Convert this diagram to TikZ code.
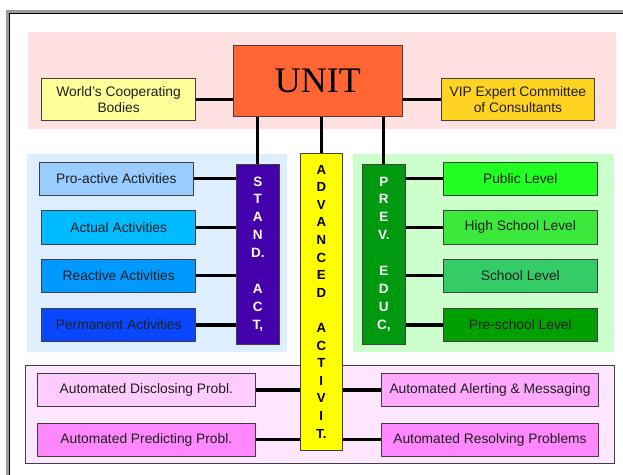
\documentclass[tikz,border=0pt]{standalone}
\usepackage{fontspec}
\setmainfont{Liberation Sans}
\newfontfamily\unitfont{Liberation Serif}
\usetikzlibrary{calc}
\pgfdeclarelayer{panels}
\pgfdeclarelayer{links}
\pgfsetlayers{panels,links,main}

% colours
\definecolor{boxline}{HTML}{404040}
\definecolor{framegrey}{HTML}{9A9A9A}
\definecolor{pinkpanel}{HTML}{FFE0E1}
\definecolor{bluepanel}{HTML}{DDEEFF}
\definecolor{greenpanel}{HTML}{CCFFCC}
\definecolor{magpanel}{HTML}{FFE6FF}
\definecolor{unitc}{HTML}{FF6633}
\definecolor{worldc}{HTML}{FFFF99}
\definecolor{vipc}{HTML}{FFD322}
\definecolor{proc}{HTML}{99CCFF}
\definecolor{actc}{HTML}{00BBFF}
\definecolor{reac}{HTML}{0099FF}
\definecolor{perc}{HTML}{0846FF}
\definecolor{standc}{HTML}{4400AA}
\definecolor{advc}{HTML}{FFFF00}
\definecolor{prevc}{HTML}{009A10}
\definecolor{pubc}{HTML}{22FF22}
\definecolor{highc}{HTML}{3BE83B}
\definecolor{schc}{HTML}{33CC66}
\definecolor{prec}{HTML}{00A000}
\definecolor{discc}{HTML}{FFCCFF}
\definecolor{predc}{HTML}{FF88FF}
\definecolor{alertc}{HTML}{FFAAFF}
\definecolor{resc}{HTML}{FF88FF}

% a rectangle node given by its corners: name, style, x1, y1, x2, y2, text
\newcommand\placebox[7]{%
  \node[#2, minimum width={#5-#3}, minimum height={#6-#4}]
    (#1) at ({(#3+#5)/2},{(#4+#6)/2}) {#7};}

\begin{document}
\begin{tikzpicture}[x=1pt,y=-1pt,
  box/.style={draw=boxline,line width=0.9pt,inner sep=0pt,
    font=\fontsize{13.8}{16}\selectfont,text=black!88,align=center},
  panel/.style={inner sep=0pt,draw=none},
  vbar/.style={box,font=\bfseries\fontsize{13.5}{17.9}\selectfont},
  link/.style={line width=3.2pt,black}]
\useasboundingbox (0,0) rectangle (623,474);

% window frame, open to the right and bottom
\begin{scope}
  \clip (0,0) rectangle (623,474);
  \draw[framegrey,line width=3pt] (7,480) -- (7,11.3) -- (630,11.3);
  \draw[black,line width=1.4pt] (9.2,480) -- (9.2,13.4) -- (630,13.4);
\end{scope}

% background panels
\begin{pgfonlayer}{panels}
  \placebox{toppanel}{panel,fill=pinkpanel}{27.8}{32}{615.8}{129.3}{}
  \placebox{leftpanel}{panel,fill=bluepanel}{26.7}{154}{287.3}{351.7}{}
  \placebox{rightpanel}{panel,fill=greenpanel}{353.3}{154}{614}{351.7}{}
  \placebox{lowpanel}{panel,fill=magpanel,draw=boxline,line width=0.9pt}{25.5}{365}{614.5}{463.8}{}
\end{pgfonlayer}

% top row
\placebox{unit}{box,fill=unitc,font=\unitfont\fontsize{36}{36}\selectfont,text=black}{233.6}{45}{402}{116.7}{UNIT}
\placebox{world}{box,fill=worldc}{41.7}{78.3}{195.5}{120}{World's Cooperating\\Bodies}
\placebox{vip}{box,fill=vipc}{441}{78.3}{594.8}{120}{VIP Expert Committee\\of Consultants}

% vertical bars
\placebox{stand}{vbar,fill=standc,text=white}{236.7}{164}{279}{344}{S\\T\\A\\N\\D.\\[17.9pt]A\\C\\T,}
\placebox{adv}{vbar,fill=advc,text=black,font=\bfseries\fontsize{13.2}{17.6}\selectfont}{300}{153.3}{342.6}{450}{A\\D\\V\\A\\N\\C\\E\\D\\[17.6pt]A\\C\\T\\I\\V\\I\\T.}
\placebox{prev}{vbar,fill=prevc,text=white}{362.7}{164}{405}{344}{P\\R\\E\\V.\\[17.9pt]E\\D\\U\\C,}

% standard activities
\placebox{pro}{box,fill=proc}{39.3}{162.7}{193.3}{195}{Pro-active Activities}
\placebox{actual}{box,fill=actc}{41.7}{210.7}{195.7}{244}{Actual Activities}
\placebox{reactive}{box,fill=reac}{41.7}{259}{195.7}{292.3}{Reactive Activities}
\placebox{perm}{box,fill=perc}{41.7}{308.3}{195.7}{341.7}{Permanent Activities}

% preventive education
\placebox{public}{box,fill=pubc}{443.3}{162.7}{597.3}{195}{Public Level}
\placebox{high}{box,fill=highc}{443.3}{210.7}{597.3}{244}{High School Level}
\placebox{school}{box,fill=schc}{443.3}{259}{597.3}{292.3}{School Level}
\placebox{pre}{box,fill=prec}{443.3}{308.3}{597.3}{341.7}{Pre-school Level}

% automated activities
\placebox{disc}{box,fill=discc}{37.7}{373.3}{255}{406.7}{Automated Disclosing Probl.}
\placebox{pred}{box,fill=predc}{37.7}{423.3}{255}{456}{Automated Predicting Probl.}
\placebox{alert}{box,fill=alertc}{381.4}{373.3}{598.6}{406.7}{Automated Alerting \& Messaging}
\placebox{resolve}{box,fill=resc}{381.4}{423.3}{598.6}{456}{Automated Resolving Problems}

% connectors
\begin{pgfonlayer}{links}
  \draw[link] (world.east) -- (unit.west |- world.east);
  \draw[link] (vip.west) -- (unit.east |- vip.west);
  \draw[link] (unit.south -| stand.north) -- (stand.north);
  \draw[link] (unit.south -| adv.north) -- (adv.north);
  \draw[link] (unit.south -| prev.north) -- (prev.north);
  \foreach \b in {pro,actual,reactive,perm}
    \draw[link] (\b.east) -- (\b.east -| stand.west);
  \foreach \b in {public,high,school,pre}
    \draw[link] (\b.west) -- (\b.west -| prev.east);
  \foreach \b in {disc,pred}
    \draw[link] (\b.east) -- (\b.east -| adv.west);
  \foreach \b in {alert,resolve}
    \draw[link] (\b.west) -- (\b.west -| adv.east);
\end{pgfonlayer}
\end{tikzpicture}
\end{document}
